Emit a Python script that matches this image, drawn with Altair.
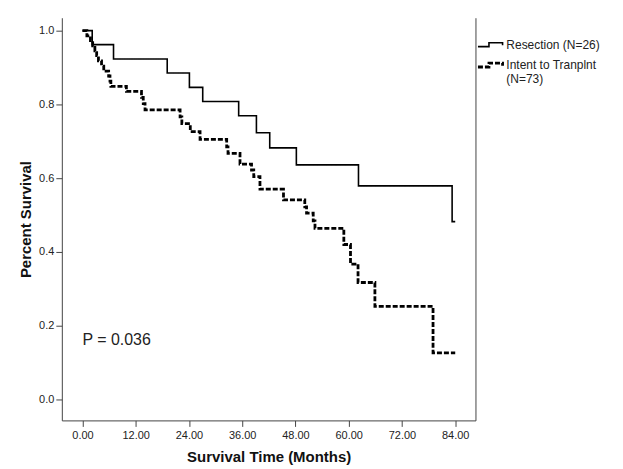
import altair as alt
import pandas as pd

# Kaplan-Meier step data
res_label = "Resection (N=26)"
itt_label = "Intent to Tranplnt (N=73)"

res_t = [0, 2.2, 7.0, 19.1, 24.1, 27.1, 35.2, 39.2, 42.2, 48.2, 62.2, 83.3, 84.0]
res_s = [1.0, 0.962, 0.923, 0.885, 0.846, 0.808, 0.769, 0.723, 0.682, 0.636, 0.579, 0.482, 0.482]

itt_t = [0, 1.0, 1.8, 2.3, 2.8, 3.2, 3.6, 4.3, 4.8, 5.9, 6.2, 6.4, 9.9, 13.3, 13.7, 14.1,
         22.0, 22.4, 24.3, 26.5, 32.5, 32.8, 35.5, 38.1, 38.6, 40.0, 45.3, 50.1, 50.5,
         52.0, 52.4, 58.9, 60.4, 62.1, 65.9, 79.0, 84.0]
itt_s = [1.0, 0.986, 0.973, 0.959, 0.945, 0.932, 0.918, 0.904, 0.890, 0.877, 0.863, 0.849,
         0.835, 0.819, 0.802, 0.785, 0.766, 0.748, 0.726, 0.705, 0.685, 0.667, 0.638, 0.622,
         0.604, 0.570, 0.541, 0.522, 0.505, 0.484, 0.464, 0.420, 0.367, 0.317, 0.252, 0.126, 0.126]

x_ticks = [0, 12, 24, 36, 48, 60, 72, 84]
y_ticks = [0.0, 0.2, 0.4, 0.6, 0.8, 1.0]

p_text = ["P = 0.036"]
p_x = [0.0]
p_y = [0.16]

df = pd.concat([
    pd.DataFrame({"t": res_t, "s": res_s, "group": res_label}),
    pd.DataFrame({"t": itt_t, "s": itt_s, "group": itt_label}),
], ignore_index=True)
ptxt = pd.DataFrame({"t": p_x, "s": p_y, "label": p_text})

FONT = "Liberation Sans"
x_dom = [-4.65, 88.56]
y_dom = [-0.057, 1.035]

label_expr = "datum.value == '" + itt_label + "' ? ['Intent to Tranplnt', '(N=73)'] : datum.value"

x_enc = alt.X("t:Q", scale=alt.Scale(domain=x_dom, nice=False, zero=False),
              axis=alt.Axis(values=x_ticks, format=".2f", title="Survival Time (Months)",
                            grid=False, tickSize=6, labelPadding=3, titlePadding=9,
                            labelFontSize=11, titleFontSize=15, titleFontWeight="bold",
                            labelColor="#222", titleColor="#111", domainColor="#444",
                            tickColor="#444", labelFont=FONT, titleFont=FONT))

lines = alt.Chart(df).mark_line(interpolate="step-after", color="black").encode(
    x=x_enc,
    y=alt.Y("s:Q", scale=alt.Scale(domain=y_dom, nice=False, zero=False),
            axis=alt.Axis(values=y_ticks, format=".1f", title="Percent Survival",
                          grid=False, tickSize=6, labelPadding=2, titlePadding=5,
                          labelFontSize=11, titleFontSize=15, titleFontWeight="bold",
                          labelColor="#222", titleColor="#111", domainColor="#444",
                          tickColor="#444", labelFont=FONT, titleFont=FONT)),
    strokeDash=alt.StrokeDash("group:N",
                              scale=alt.Scale(domain=[res_label, itt_label], range=[[1, 0], [5, 2]]),
                              legend=alt.Legend(title=None, labelExpr=label_expr)),
    strokeWidth=alt.StrokeWidth("group:N",
                                scale=alt.Scale(domain=[res_label, itt_label], range=[1.6, 2.8]),
                                legend=alt.Legend(title=None, labelExpr=label_expr)),
)

ptext = alt.Chart(ptxt).mark_text(align="left", baseline="middle", fontSize=16, font=FONT,
                                  color="#222").encode(
    x=alt.X("t:Q", scale=alt.Scale(domain=x_dom, nice=False, zero=False)),
    y=alt.Y("s:Q", scale=alt.Scale(domain=y_dom, nice=False, zero=False),
            axis=alt.Axis(orient="right", labels=False, ticks=False, title=None, grid=False,
                          domainColor="#444")),
    text="label:N",
)

chart = alt.layer(lines, ptext).resolve_scale(y="independent").properties(
    width=415, height=404,
    autosize=alt.AutoSizeParams(type="none"),
    padding={"left": 54, "top": 9, "right": 140, "bottom": 46},
).configure_view(stroke=None).configure_legend(
    orient="none", legendX=416, legendY=13, padding=0,
    symbolType="M-1,0.15L-0.15,0.15L-0.15,-0.15L0.9,-0.15L0.9,0.05",
    symbolSize=676, symbolStrokeColor="black", symbolFillColor="transparent",
    labelFont=FONT, labelFontSize=12, labelColor="#222", labelOffset=1,
    labelLimit=200, rowPadding=-4,
)

chart.save("out.html", embed_options={"renderer": "svg", "actions": False})
